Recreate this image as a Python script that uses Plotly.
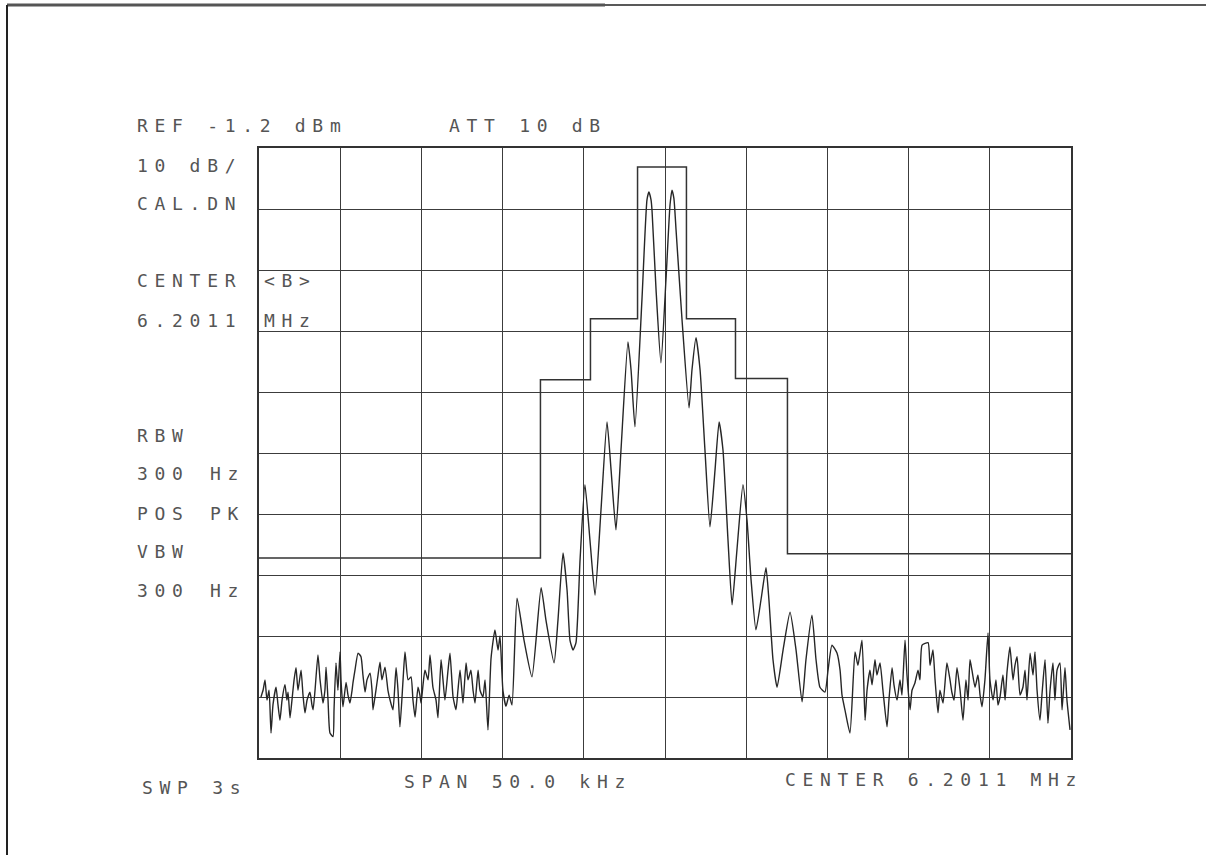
import plotly.graph_objects as go

# Spectrum analyzer plot: span 50 kHz around 6.2011 MHz, 10 dB/div, ref -1.2 dBm
freq_khz = [
    -24.88, -24.75, -24.63, -24.51, -24.38, -24.26, -24.14, -23.95, -23.83, -23.71,
    -23.58, -23.40, -23.28, -23.21, -23.09, -22.97, -22.84, -22.72, -22.60, -22.41,
    -22.29, -22.17, -22.04, -21.86, -21.74, -21.67, -21.55, -21.37, -21.24, -21.06,
    -20.94, -20.87, -20.75, -20.63, -20.44, -20.38, -20.26, -20.14, -20.01, -19.95,
    -19.83, -19.64, -19.52, -19.40, -19.27, -19.21, -19.09, -18.90, -18.72, -18.60,
    -18.47, -18.35, -18.16, -18.04, -17.98, -17.80, -17.67, -17.55, -17.43, -17.24,
    -17.06, -16.93, -16.75, -16.56, -16.44, -16.32, -16.13, -16.01, -15.82, -15.64,
    -15.52, -15.39, -15.21, -15.09, -15.02, -14.90, -14.78, -14.59, -14.47, -14.29,
    -14.10, -13.98, -13.79, -13.67, -13.55, -13.36, -13.24, -13.05, -12.87, -12.75,
    -12.62, -12.44, -12.25, -12.13, -11.95, -11.82, -11.70, -11.51, -11.39, -11.21,
    -11.08, -10.90, -10.71, -10.47, -10.28, -10.16, -9.98, -9.79, -9.60, -9.42,
    -9.11, -8.68, -8.19, -7.63, -7.33, -6.83, -6.59, -6.28, -6.03, -5.85,
    -5.66, -5.48, -5.23, -4.93, -4.62, -4.31, -3.94, -3.57, -3.32, -3.02,
    -2.71, -2.28, -2.09, -1.85, -1.42, -1.11, -0.99, -0.86, -0.80, -0.55,
    -0.25, 0.06, 0.31, 0.43, 0.55, 0.68, 1.05, 1.48, 1.66, 1.91,
    2.16, 2.46, 2.77, 3.08, 3.33, 3.57, 3.88, 4.13, 4.43, 4.80,
    5.05, 5.30, 5.60, 5.91, 6.22, 6.40, 6.65, 6.90, 7.27, 7.70,
    8.07, 8.44, 8.68, 9.05, 9.30, 9.54, 9.85, 10.04, 10.28, 10.59,
    10.78, 10.90, 11.08, 11.39, 11.70, 11.88, 12.13, 12.32, 12.44, 12.62,
    12.75, 12.93, 13.05, 13.24, 13.42, 13.67, 13.79, 13.98, 14.10, 14.29,
    14.47, 14.59, 14.78, 14.90, 15.09, 15.21, 15.39, 15.58, 15.70, 15.83,
    16.20, 16.32, 16.50, 16.63, 16.81, 16.93, 17.12, 17.36, 17.55, 17.67,
    17.80, 17.98, 18.17, 18.35, 18.53, 18.66, 18.78, 18.90, 19.09, 19.27,
    19.40, 19.52, 19.70, 19.89, 20.01, 20.20, 20.38, 20.50, 20.63, 20.81,
    20.94, 21.06, 21.24, 21.43, 21.55, 21.68, 21.86, 22.04, 22.17, 22.29,
    22.48, 22.66, 22.78, 22.91, 23.09, 23.21, 23.40, 23.58, 23.71, 23.89,
    24.01, 24.14, 24.32, 24.45, 24.63, 24.75, 24.94,
]
level_dbm = [
    -91.2, -90.1, -88.4, -91.7, -90.1, -97.1, -92.5, -89.6, -92.5, -95.0,
    -91.7, -89.2, -91.7, -90.4, -94.6, -91.7, -88.4, -86.4, -90.1, -86.8,
    -90.9, -93.8, -91.7, -90.4, -92.5, -93.3, -90.1, -84.3, -88.4, -92.2,
    -90.1, -86.3, -91.7, -97.1, -97.7, -93.3, -85.6, -90.1, -83.8, -88.4,
    -92.8, -88.8, -90.9, -92.2, -90.1, -88.8, -86.8, -84.0, -84.6, -87.6,
    -90.4, -88.4, -87.3, -90.1, -93.3, -90.1, -87.6, -85.5, -88.4, -86.3,
    -90.1, -91.7, -93.3, -86.4, -90.1, -96.1, -88.4, -83.8, -88.4, -87.9,
    -91.7, -94.5, -89.6, -90.9, -92.2, -89.2, -86.8, -88.4, -84.3, -89.6,
    -91.7, -94.6, -85.1, -88.4, -91.7, -86.8, -84.0, -91.2, -93.3, -90.1,
    -86.8, -92.2, -85.6, -88.4, -86.8, -90.1, -92.2, -86.8, -90.1, -91.2,
    -88.4, -96.6, -84.8, -80.2, -83.5, -81.2, -90.1, -92.7, -90.9, -92.5,
    -75.0, -81.9, -87.9, -73.3, -78.6, -85.6, -78.6, -67.6, -73.7, -81.9,
    -83.5, -82.3, -68.7, -56.4, -65.5, -74.5, -60.5, -46.1, -54.0, -63.8,
    -50.7, -33.0, -37.6, -46.9, -26.1, -9.7, -8.4, -9.7, -11.4, -24.5,
    -36.4, -22.8, -10.5, -8.1, -9.5, -14.6, -29.4, -43.8, -37.6, -32.3,
    -37.6, -50.7, -63.3, -54.0, -46.1, -50.7, -65.5, -76.1, -67.1, -56.4,
    -62.2, -72.0, -80.2, -75.3, -70.0, -75.3, -85.1, -89.6, -83.5, -77.3,
    -83.5, -92.0, -85.1, -77.8, -85.1, -89.6, -90.4, -86.8, -82.7, -84.0,
    -86.8, -90.9, -93.3, -97.1, -83.8, -86.0, -81.9, -95.0, -90.1, -86.8,
    -89.2, -85.1, -87.6, -85.6, -90.1, -96.1, -91.7, -86.4, -89.2, -91.7,
    -88.4, -90.9, -81.9, -87.6, -93.3, -90.1, -88.9, -86.8, -88.4, -82.7,
    -82.3, -86.0, -83.5, -88.4, -93.8, -90.1, -92.2, -85.6, -88.4, -90.5,
    -91.7, -86.4, -90.1, -95.0, -88.4, -91.7, -85.1, -86.8, -89.6, -87.6,
    -90.9, -92.8, -88.4, -80.7, -88.4, -91.7, -88.4, -92.5, -91.2, -87.6,
    -91.7, -87.1, -83.0, -88.4, -86.0, -84.6, -90.9, -89.6, -86.8, -91.7,
    -84.0, -87.6, -83.8, -90.1, -95.0, -90.9, -85.1, -95.5, -90.1, -85.6,
    -91.7, -86.8, -85.6, -93.3, -86.4, -91.7, -96.6,
]

# Limit line (stepped mask), each level holds until the next edge
mask_khz = [-25.0, -7.67, -4.59, -1.69, 1.32, 4.34, 7.54, 25.0]
mask_dbm = [-68.4, -39.2, -29.2, -4.3, -29.2, -39.0, -67.7, -67.7]

REF_DBM = -1.2
DB_PER_DIV = 10
SPAN_KHZ = 50.0

W, H = 1206, 855
L, R, T, B = 259, 135, 148, 97
PW, PH = W - L - R, H - T - B


def px(x, y):
    """Page pixel -> paper coordinates of the plotting area."""
    return (x - L) / PW, (H - B - y) / PH


fig = go.Figure()

fig.add_trace(go.Scatter(
    x=mask_khz, y=mask_dbm, mode="lines", line_shape="hv",
    line=dict(color="#333333", width=1.5), hoverinfo="skip",
))
fig.add_trace(go.Scatter(
    x=freq_khz, y=level_dbm, mode="lines", line_shape="spline",
    line=dict(color="#262626", width=1.4, smoothing=0.5), hoverinfo="skip",
))

# Instrument annotations (plotter-style lettering, fixed character pitch)
TXT = "#555555"
labels = [
    ("REF -1.2 dBm", 135, 125),
    ("ATT 10 dB", 447, 125),
    ("10 dB/", 135, 165),
    ("CAL.DN", 135, 203),
    ("CENTER", 135, 280),
    ("&lt;B&gt;", 262, 280),
    ("6.2011", 135, 320),
    ("MHz", 262, 320),
    ("RBW", 135, 435),
    ("300", 135, 473),
    ("Hz", 208, 473),
    ("POS", 135, 513),
    ("PK", 208, 513),
    ("VBW", 135, 551),
    ("300", 135, 590),
    ("Hz", 208, 590),
    ("SWP 3s", 140, 787),
    ("SPAN 50.0 kHz", 402, 781),
    ("CENTER 6.2011 MHz", 783, 779),
]
for text, x0, y0 in labels:
    ax, ay = px(x0, y0)
    fig.add_annotation(
        x=ax, y=ay, xref="paper", yref="paper", xanchor="left", yanchor="middle",
        text=f'<span style="letter-spacing:6.7px">{text}</span>', showarrow=False,
        font=dict(family="DejaVu Sans Mono", size=18, color=TXT),
    )

# Sheet edges along the top and the left
x_left, y_top = px(7, 5)
x_mid, _ = px(605, 5)
x_right, y_bot = px(1206, 855)
fig.add_shape(type="line", xref="paper", yref="paper", x0=x_left, x1=x_mid,
              y0=y_top, y1=y_top, line=dict(color="#555555", width=3))
fig.add_shape(type="line", xref="paper", yref="paper", x0=x_mid, x1=x_right,
              y0=y_top, y1=y_top, line=dict(color="#222222", width=1.5))
fig.add_shape(type="line", xref="paper", yref="paper", x0=x_left, x1=x_left,
              y0=y_top, y1=y_bot, line=dict(color="#222222", width=2))

fig.update_layout(
    width=W, height=H, margin=dict(l=L, r=R, t=T, b=B),
    paper_bgcolor="white", plot_bgcolor="white", showlegend=False,
    xaxis=dict(range=[-SPAN_KHZ / 2, SPAN_KHZ / 2], dtick=SPAN_KHZ / 10, tick0=0,
               showgrid=True, gridcolor="#3c3c3c", gridwidth=1.4,
               showticklabels=False, ticks="", zeroline=False,
               showline=True, mirror=True, linecolor="#333333", linewidth=1.6),
    yaxis=dict(range=[REF_DBM - 10 * DB_PER_DIV, REF_DBM], dtick=DB_PER_DIV, tick0=REF_DBM,
               showgrid=True, gridcolor="#3c3c3c", gridwidth=1.4,
               showticklabels=False, ticks="", zeroline=False,
               showline=True, mirror=True, linecolor="#333333", linewidth=1.6),
)

fig.write_html("out.html")
